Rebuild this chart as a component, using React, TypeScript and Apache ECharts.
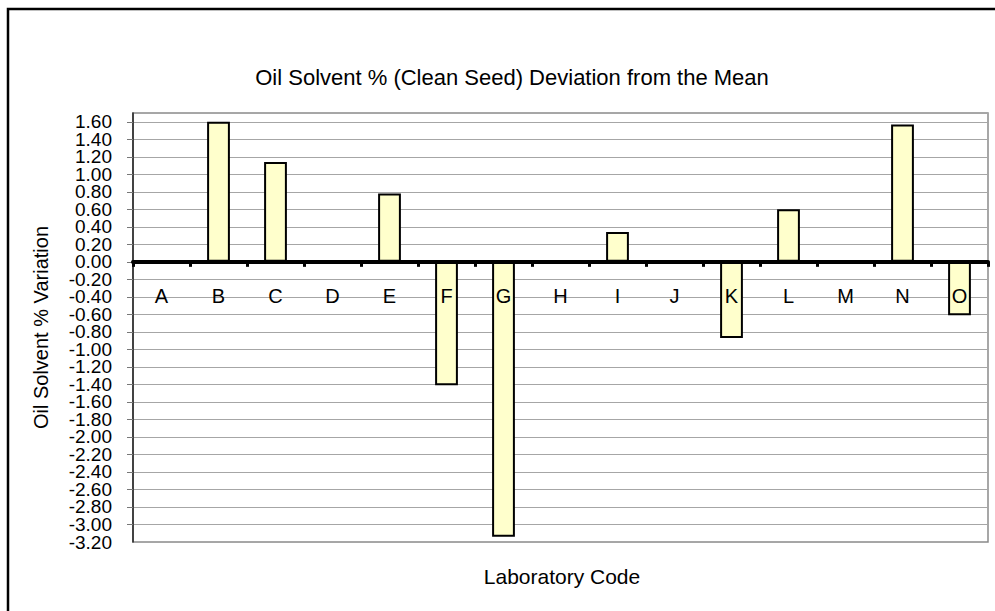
import React, { useEffect, useRef } from "react";
import * as echarts from "echarts";

const categories = ["A", "B", "C", "D", "E", "F", "G", "H", "I", "J", "K", "L", "M", "N", "O"];
const deviations: (number | null)[] = [null, 1.6, 1.14, null, 0.78, -1.41, -3.14, null, 0.34, null, -0.87, 0.6, null, 1.57, -0.61];
const chartTitle = "Oil Solvent % (Clean Seed) Deviation from the Mean";
const xAxisTitle = "Laboratory Code";
const yAxisTitle = "Oil Solvent % Variation";
const yMin = -3.2;
const yMax = 1.7;
const yStep = 0.2;

const FONT = "'Liberation Sans', Arial, Helvetica, sans-serif";
const Y_FONT = 19;

export default function App() {
  const ref = useRef<HTMLDivElement>(null);
  useEffect(() => {
    if (!ref.current) return;
    const chart = echarts.init(ref.current, null, { renderer: "svg" });
    chart.setOption({
      animation: false,
      backgroundColor: "#ffffff",
      textStyle: { fontFamily: FONT },
      title: [
        {
          text: chartTitle,
          left: 507,
          textAlign: "center",
          top: 61,
          textStyle: { fontFamily: FONT, fontSize: 22, fontWeight: "normal", color: "#000" },
        },
        {
          text: xAxisTitle,
          left: 557,
          textAlign: "center",
          top: 561,
          textStyle: { fontFamily: FONT, fontSize: 21, fontWeight: "normal", color: "#000" },
        },
      ],
      graphic: [
        {
          type: "rect",
          shape: { x: 8, y: 9, width: 1030, height: 640 },
          style: { fill: "none", stroke: "#000", lineWidth: 2.5 },
          silent: true,
          z: 100,
        },
      ],
      grid: { left: 133, right: 7, top: 113, bottom: 69, show: true, borderColor: "#8a8a8a", borderWidth: 1.5, backgroundColor: "transparent" },
      xAxis: {
        type: "category",
        data: categories,
        z: 5,
        position: "bottom",
        offset: 0,
        axisLine: { show: true, onZero: false, lineStyle: { color: "#000", width: 4 } },
        axisTick: { show: true, alignWithLabel: false, inside: false, length: 5, lineStyle: { color: "#000", width: 3 } },
        axisLabel: { show: true, margin: 24, fontSize: 20, color: "#000", fontFamily: FONT },
        splitLine: { show: false },
      },
      yAxis: [
        {
          type: "value",
          position: "left",
          min: yMin,
          max: yMax,
          interval: yStep,
          name: yAxisTitle,
          nameLocation: "middle",
          nameGap: 82,
          nameTextStyle: { fontSize: 20, color: "#000", fontFamily: FONT },
          axisLine: { show: true, onZero: false, lineStyle: { color: "#222", width: 1.5 } },
          axisTick: { show: true, length: 6, lineStyle: { color: "#777", width: 1 } },
          axisLabel: {
            margin: 21,
            fontSize: Y_FONT,
            color: "#000",
            fontFamily: FONT,
            showMaxLabel: false,
            showMinLabel: false,
            hideOverlap: false,
            formatter: (v: number) => v.toFixed(2),
          },
          splitLine: { show: true, lineStyle: { color: "#a6a6a6", width: 1.2 } },
        },
        {
          type: "value",
          position: "left",
          offset: 0,
          min: yMin,
          max: yMax,
          interval: yStep,
          axisLine: { show: false, onZero: false },
          axisTick: { show: false },
          splitLine: { show: false },
          axisLabel: {
            margin: 21,
            fontSize: Y_FONT,
            color: "#000",
            fontFamily: FONT,
            showMaxLabel: false,
            showMinLabel: true,
            hideOverlap: false,
            formatter: (v: number) => (Math.abs(v - yMin) < 1e-9 ? v.toFixed(2) : ""),
          },
        },
      ],
      series: [
        {
          type: "bar",
          data: deviations,
          yAxisIndex: 0,
          barWidth: "40%",
          itemStyle: { color: "#FFFFCC", borderColor: "#000", borderWidth: 2 },
        },
      ],
    });
    const zeroY = chart.convertToPixel({ yAxisIndex: 0 }, 0) as number;
    const bottomY = chart.convertToPixel({ yAxisIndex: 0 }, yMin) as number;
    chart.setOption({ xAxis: { offset: -(bottomY - zeroY) } });
    return () => chart.dispose();
  }, []);
  return <div ref={ref} style={{ position: "fixed", left: 0, top: 0, width: 995, height: 611 }} />;
}
